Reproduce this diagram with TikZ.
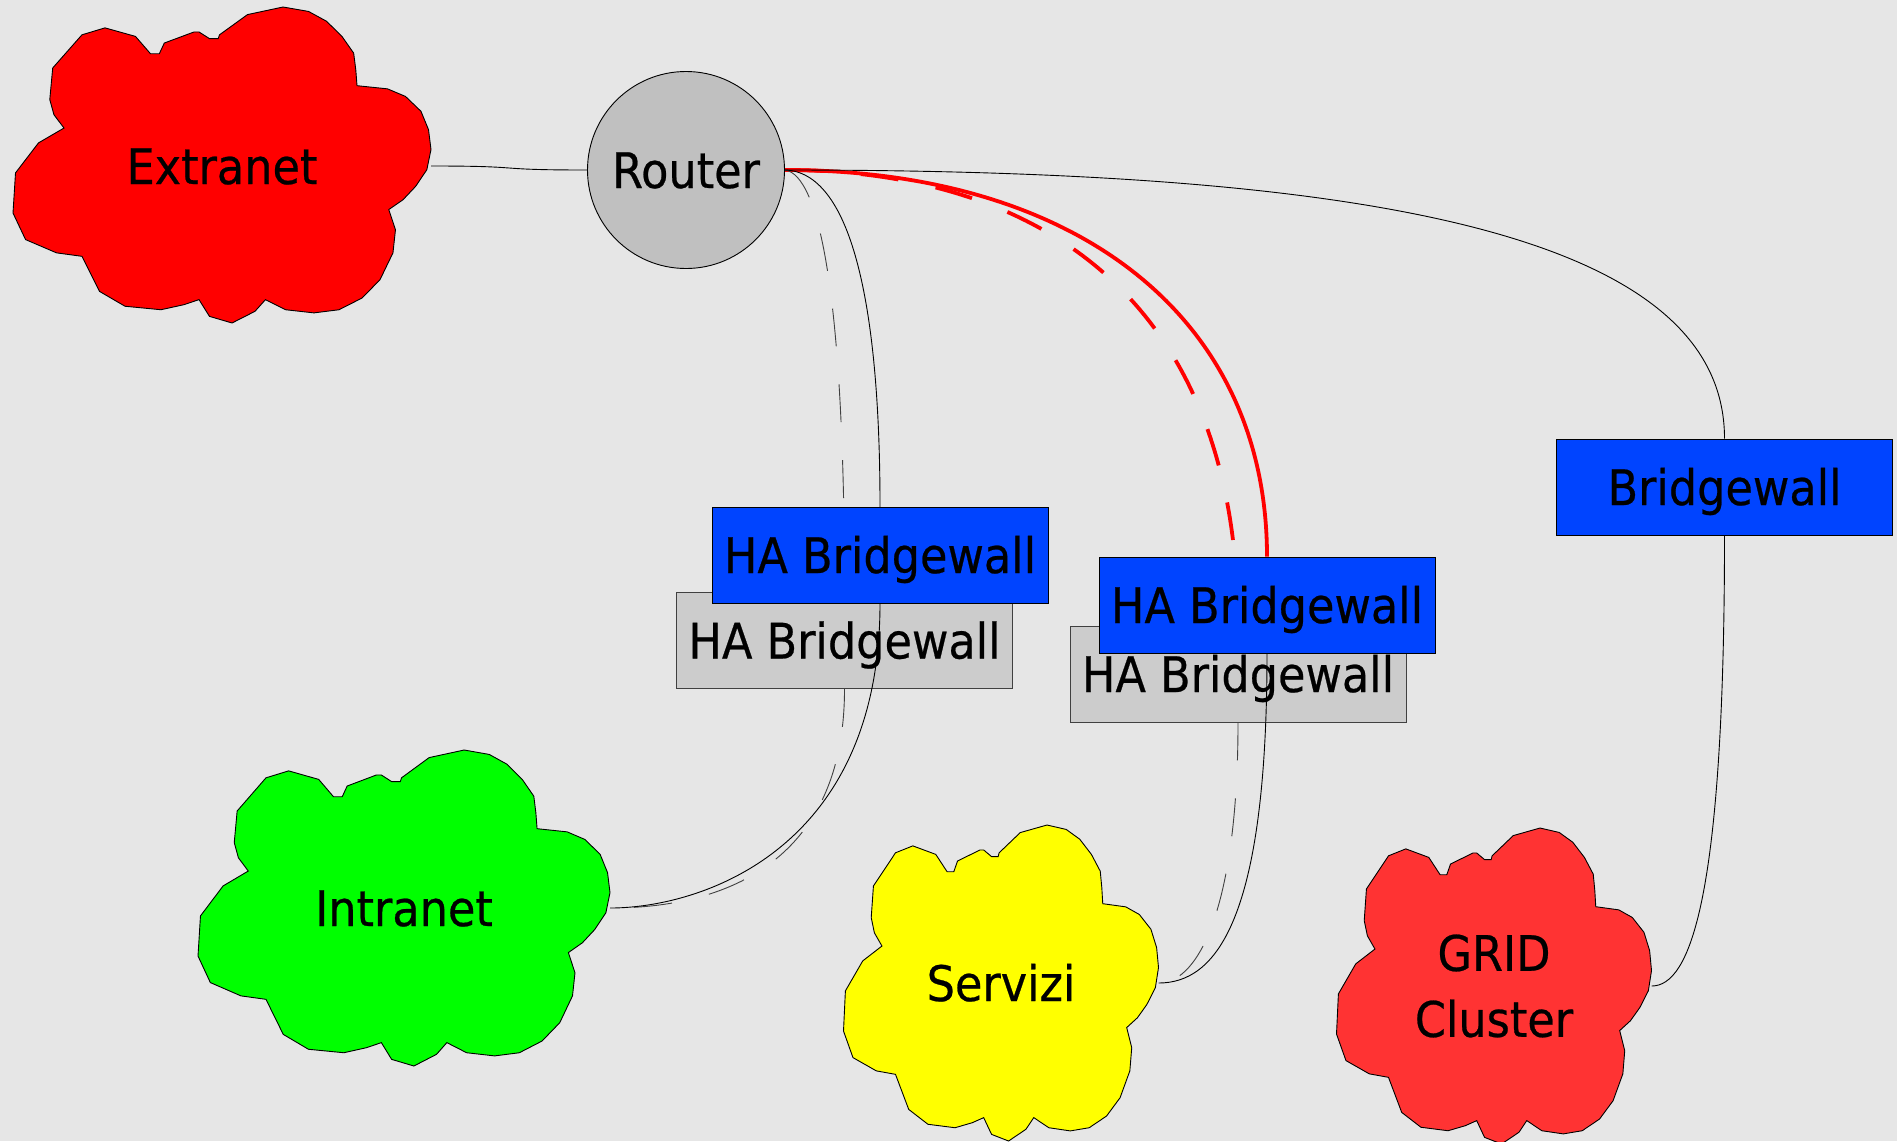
\documentclass[tikz,border=0pt]{standalone}
\usepackage{fontspec}
\setmainfont{DejaVu Sans}[FakeStretch=0.91, FakeBold=0.5]
\usetikzlibrary{calc}

\pgfdeclarelayer{back}
\pgfdeclarelayer{links}
\pgfdeclarelayer{shapes}
\pgfdeclarelayer{over}
\pgfdeclarelayer{front}
\pgfsetlayers{back,links,shapes,main,over,front}

\definecolor{bgcol}{HTML}{E6E6E6}
\definecolor{boxblue}{HTML}{0044FF}
\definecolor{boxgray}{HTML}{CCCCCC}
\definecolor{routergray}{HTML}{C0C0C0}
\definecolor{extred}{HTML}{FF0000}
\definecolor{intgreen}{HTML}{00FF00}
\definecolor{srvyellow}{HTML}{FFFF00}
\definecolor{gridred}{HTML}{FF3333}
\definecolor{linkred}{HTML}{FF0000}
\definecolor{dashgray}{HTML}{404040}

\tikzset{
  labelfont/.style={font=\fontsize{49}{66}\selectfont},
  edgeline/.style={draw=black, line width=0.9pt},
  netbox/.style={edgeline, rectangle, minimum width=336pt, minimum height=96pt,
    inner sep=0pt, text height=36pt, text depth=0pt, labelfont},
  bluebox/.style={netbox, fill=boxblue},
  graybox/.style={netbox, fill=boxgray, draw=black!75},
  cloudtext/.style={inner sep=0pt, labelfont, text height=36pt, text depth=0pt},
  wire/.style={draw=black, line width=0.9pt},
  wiredash/.style={draw=dashgray, line width=0.9pt, dash pattern=on 38pt off 38pt},
  redwire/.style={draw=linkred, line width=3.8pt},
  redwiredash/.style={redwire, dash pattern=on 38pt off 38pt},
}

% cloud outline: #1 centre, #2 width, #3 height, #4 fill colour
\newcommand\cloudshape[4]{%
  \begin{scope}[shift={#1}, xscale=#2, yscale=#3]
    \filldraw[edgeline, fill=#4]
      (0.146,-0.5) -- (0.207,-0.486) -- (0.250,-0.455) -- (0.287,-0.407) --
      (0.315,-0.354) -- (0.320,-0.302) -- (0.323,-0.251) -- (0.396,-0.241) --
      (0.439,-0.217) -- (0.476,-0.170) -- (0.494,-0.112) -- (0.5,-0.049) --
      (0.490,0.015) -- (0.463,0.068) -- (0.433,0.110) -- (0.399,0.141) --
      (0.415,0.205) -- (0.409,0.278) -- (0.378,0.363) -- (0.335,0.421) --
      (0.280,0.458) -- (0.220,0.468) -- (0.152,0.458) -- (0.104,0.426) --
      (0.079,0.463) -- (0.024,0.5) -- (-0.030,0.479) -- (-0.055,0.426) --
      (-0.091,0.442) -- (-0.146,0.458) -- (-0.232,0.447) -- (-0.293,0.400) --
      (-0.335,0.289) -- (-0.396,0.278) -- (-0.470,0.236) -- (-0.5,0.152) --
      (-0.494,0.025) -- (-0.439,-0.070) -- (-0.378,-0.117) -- (-0.402,-0.159) --
      (-0.412,-0.207) -- (-0.405,-0.307) -- (-0.335,-0.412) -- (-0.280,-0.434) --
      (-0.207,-0.407) -- (-0.171,-0.352) -- (-0.150,-0.352) -- (-0.138,-0.386) --
      (-0.067,-0.421) -- (-0.055,-0.421) -- (-0.030,-0.400) -- (-0.009,-0.400) --
      (-0.006,-0.412) -- (0.061,-0.476) -- cycle;
  \end{scope}}

\begin{document}
\begin{tikzpicture}[x=1pt, y=-1pt]
  \useasboundingbox (0,0) rectangle (1897,1141);
  \begin{pgfonlayer}{back}
    \fill[bgcol] (0,0) rectangle (1897,1141);
  \end{pgfonlayer}

  % networks
  \begin{pgfonlayer}{shapes}
    \cloudshape{(222,165)}{418}{316}{extred}
    \cloudshape{(404,908)}{412}{316}{intgreen}
    \cloudshape{(1001,983)}{315}{316}{srvyellow}
    \cloudshape{(1494,986)}{315}{316}{gridred}
  \end{pgfonlayer}
  \node[cloudtext, minimum width=418pt, minimum height=316pt] (extranet) at (222,166) {Extranet};
  \node[cloudtext, minimum width=412pt, minimum height=316pt] (intranet) at (404,908) {Intranet};
  \node[cloudtext, minimum width=315pt, minimum height=316pt] (servizi) at (1001,983) {Servizi};
  \node[inner sep=0pt, labelfont, align=center, minimum width=315pt, minimum height=316pt]
    (grid) at (1494,986) {GRID\\Cluster};

  % router
  \node[edgeline, circle, fill=routergray, minimum size=197pt, inner sep=0pt,
    labelfont, text height=36pt, text depth=0pt] (router) at (686,170) {Router};

  % standby bridgewalls
  \node[graybox] (haAback) at (844.5,640.5) {HA Bridgewall};
  \node[graybox] (haBback) at (1238,674) {HA Bridgewall};

  % active bridgewalls
  \begin{pgfonlayer}{front}
    \node[bluebox] (haA) at (880,555) {HA Bridgewall};
    \node[bluebox] (haB) at (1267,605) {HA Bridgewall};
    \node[bluebox] (bridge) at (1724.5,487) {Bridgewall};
  \end{pgfonlayer}

  % links beneath the boxes
  \begin{pgfonlayer}{links}
    \draw[redwiredash] (router.east) .. controls +(265,0) and +(0,-316) .. (haBback.north);
    \draw[redwire] (router.east) .. controls +(295,0) and +(0,-237) .. (haB.north);
    \draw[wire] (extranet.east) .. controls +(100,0) and +(-100,0) .. (router.west);
    \draw[wire] (router.east) .. controls +(565,0) and +(0,-210) .. (bridge.north);
    \draw[wire] (bridge.south) .. controls +(0,365) and +(38,0) .. (grid.east);
    \draw[wiredash] (router.east) .. controls +(35,5) and +(0,-293) .. (haAback.north);
    \draw[wiredash] (haAback.south) .. controls +(0,161) and +(130,0) .. (intranet.east);
    \draw[wiredash] (haBback.south) .. controls +(0,178) and +(42,0) .. (servizi.east);
  \end{pgfonlayer}

  % links running across the standby boxes
  \begin{pgfonlayer}{over}
    \draw[wire] (router.east) .. controls +(65,2) and +(0,-207) .. (haA.north)
      -- (haA.south) .. controls +(0,247) and +(90,0) .. (intranet.east);
    \draw[wire] (haB.south) .. controls +(0,267) and +(57,0) .. (servizi.east);
  \end{pgfonlayer}
\end{tikzpicture}
\end{document}
